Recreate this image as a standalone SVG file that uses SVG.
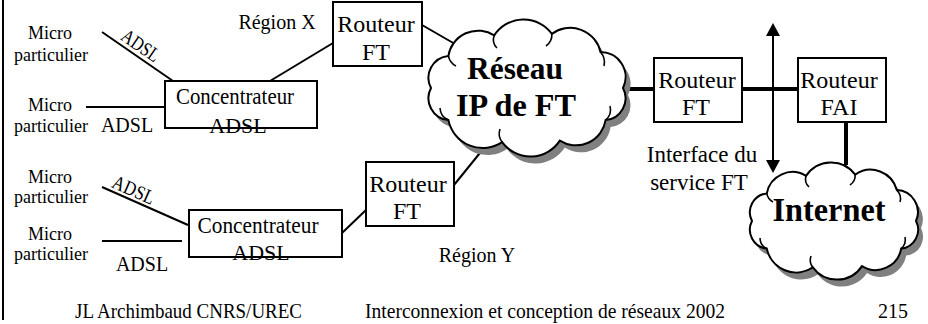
<svg xmlns="http://www.w3.org/2000/svg" width="928" height="324" viewBox="0 0 928 324">
<defs>
<style>
.t{font-family:"Liberation Serif","Times New Roman",serif;fill:#000}
.c{text-anchor:middle}
.b{font-weight:bold}
.box{fill:#fff;stroke:#000;stroke-width:2}
.ln{stroke:#000;stroke-width:2;fill:none}
.thick{stroke:#000;stroke-width:4;fill:none}
.cloud{fill:#fff;stroke:#000;stroke-width:2}
.shadow{fill:#808080}
.inner{fill:none;stroke:#000;stroke-width:1.6}
</style>
<marker id="arr" markerUnits="userSpaceOnUse" markerWidth="13" markerHeight="14" viewBox="0 0 13 14" refX="0" refY="7" orient="auto-start-reverse">
<path d="M0,0 L13,7 L0,14 Z" fill="#000"/>
</marker>
<path id="cloud1" d="M623,88 A22,22 0 0 1 605.6,120.1 A30,30 0 0 1 559.8,140.6 A35,35 0 0 1 502.1,142.1 A35,35 0 0 1 448.4,120.1 A22,22 0 0 1 431,88 A22,22 0 0 1 448.4,55.9 A30,30 0 0 1 494.2,35.4 A35,35 0 0 1 551.9,33.9 A31,31 0 0 1 600.5,52 A25,25 0 0 1 623,88 Z"/>
<path id="cloud2" d="M916,221 A19,19 0 0 1 901.2,248.6 A26,26 0 0 1 862,266.1 A30,30 0 0 1 812.8,267.4 A30,30 0 0 1 766.8,248.6 A19,19 0 0 1 752,221 A19,19 0 0 1 766.8,193.4 A26,26 0 0 1 806,175.9 A30,30 0 0 1 855.2,174.6 A27,27 0 0 1 896.8,190.1 A22,22 0 0 1 916,221 Z"/>
</defs>
<rect x="0" y="0" width="928" height="324" fill="#fff"/>
<line x1="3" y1="0" x2="3" y2="320" class="ln"/>

<g id="connectors">
<line x1="102" y1="32" x2="173" y2="81" class="ln"/>
<line x1="86" y1="107" x2="165" y2="107" class="ln"/>
<line x1="270" y1="81" x2="333" y2="43" class="ln"/>
<line x1="422" y1="25" x2="455" y2="44" class="ln"/>
<line x1="488" y1="143" x2="454" y2="185" class="ln"/>
<line x1="102" y1="187" x2="188" y2="225" class="ln"/>
<line x1="102" y1="241" x2="182" y2="241" class="ln"/>
<line x1="342" y1="233" x2="366" y2="210" class="ln"/>
<line x1="628" y1="89" x2="654" y2="89" class="thick"/>
<line x1="742" y1="89" x2="798" y2="89" class="thick"/>
<line x1="846" y1="122" x2="846" y2="165" class="thick"/>
<line x1="773" y1="36" x2="773" y2="160" class="ln" marker-start="url(#arr)" marker-end="url(#arr)"/>
</g>

<g id="micro1">
<text class="t c" x="50" y="39" font-size="18">Micro</text>
<text class="t c" x="51" y="61" font-size="18">particulier</text>
</g>
<g id="micro2">
<text class="t c" x="50" y="111" font-size="18">Micro</text>
<text class="t c" x="51" y="132" font-size="18">particulier</text>
</g>
<g id="micro3">
<text class="t c" x="50" y="183" font-size="18">Micro</text>
<text class="t c" x="51" y="203" font-size="18">particulier</text>
</g>
<g id="micro4">
<text class="t c" x="50" y="240" font-size="18">Micro</text>
<text class="t c" x="51" y="260" font-size="18">particulier</text>
</g>

<g id="adsl-labels">
<text class="t c" font-size="20" textLength="42" lengthAdjust="spacingAndGlyphs" transform="translate(137,51) rotate(34.6)">ADSL</text>
<text class="t c" x="127" y="132" font-size="20">ADSL</text>
<text class="t c" font-size="20" textLength="44" lengthAdjust="spacingAndGlyphs" transform="translate(131,196) rotate(23.8)">ADSL</text>
<text class="t c" x="142" y="271" font-size="20">ADSL</text>
</g>

<g id="concentrateur1">
<rect x="165" y="81" width="152" height="47" class="box"/>
<text class="t c" x="235" y="104" font-size="23" textLength="118" lengthAdjust="spacingAndGlyphs">Concentrateur</text>
<text class="t c" x="238" y="133" font-size="22">ADSL</text>
</g>
<g id="concentrateur2">
<rect x="189" y="210" width="153" height="47" class="box"/>
<text class="t c" x="258" y="233" font-size="23" textLength="121" lengthAdjust="spacingAndGlyphs">Concentrateur</text>
<text class="t c" x="261" y="260" font-size="22">ADSL</text>
</g>

<g id="routeur-x">
<rect x="333" y="2" width="89" height="64" class="box"/>
<text class="t c" x="376" y="32" font-size="24">Routeur</text>
<text class="t c" x="376" y="60" font-size="24">FT</text>
</g>
<g id="routeur-y">
<rect x="366" y="162" width="88" height="64" class="box"/>
<text class="t c" x="408" y="192" font-size="24">Routeur</text>
<text class="t c" x="407" y="219" font-size="24">FT</text>
</g>
<g id="routeur-ft">
<rect x="654" y="58" width="88" height="64" class="box"/>
<text class="t c" x="697" y="88" font-size="24">Routeur</text>
<text class="t c" x="696" y="115" font-size="24">FT</text>
</g>
<g id="routeur-fai">
<rect x="798" y="58" width="88" height="64" class="box"/>
<text class="t c" x="839" y="88" font-size="24">Routeur</text>
<text class="t c" x="839" y="115" font-size="24">FAI</text>
</g>

<g id="reseau-ft">
<use href="#cloud1" class="shadow" transform="translate(5,7)"/>
<use href="#cloud1" class="cloud"/>
<path class="inner" d="M494.2,35.4 A12,12 0 0 0 497,48"/>
<path class="inner" d="M551.9,33.9 A14,14 0 0 1 546,46"/>
<path class="inner" d="M448.4,55.9 A14,14 0 0 0 456,66"/>
<path class="inner" d="M600.5,52 A16,16 0 0 1 604,66"/>
<path class="inner" d="M448.4,120.1 A14,14 0 0 1 440,108"/>
<path class="inner" d="M605.6,120.1 A14,14 0 0 0 610,106"/>
<path class="inner" d="M502.1,142.1 A14,14 0 0 1 500,129"/>
<text class="t c b" x="515" y="79" font-size="32" textLength="96" lengthAdjust="spacingAndGlyphs">Réseau</text>
<text class="t c b" x="516" y="116" font-size="32" textLength="120" lengthAdjust="spacingAndGlyphs">IP de FT</text>
</g>

<g id="internet">
<use href="#cloud2" class="shadow" transform="translate(5,7)"/>
<use href="#cloud2" class="cloud"/>
<path class="inner" d="M806,175.9 A11,11 0 0 0 809,187"/>
<path class="inner" d="M855.2,174.6 A12,12 0 0 1 850,185"/>
<path class="inner" d="M766.8,193.4 A12,12 0 0 0 773,202"/>
<path class="inner" d="M896.8,190.1 A12,12 0 0 1 900,202"/>
<path class="inner" d="M766.8,248.6 A12,12 0 0 1 760,238"/>
<path class="inner" d="M901.2,248.6 A12,12 0 0 0 905,237"/>
<path class="inner" d="M812.8,267.4 A12,12 0 0 1 811,256"/>
<text class="t c b" x="829" y="221" font-size="33" textLength="113" lengthAdjust="spacingAndGlyphs">Internet</text>
</g>

<g id="labels">
<text class="t c" x="277" y="29" font-size="20">Région X</text>
<text class="t c" x="477" y="262" font-size="20">Région Y</text>
<text class="t c" x="702" y="162" font-size="23">Interface du</text>
<text class="t c" x="699" y="190" font-size="23">service FT</text>
</g>

<g id="footer">
<text class="t" x="75" y="318" font-size="21" textLength="227" lengthAdjust="spacingAndGlyphs">JL Archimbaud CNRS/UREC</text>
<text class="t" x="365" y="318" font-size="21" textLength="360" lengthAdjust="spacingAndGlyphs">Interconnexion et conception de réseaux 2002</text>
<text class="t" x="878" y="318" font-size="21" textLength="30" lengthAdjust="spacingAndGlyphs">215</text>
</g>
</svg>
